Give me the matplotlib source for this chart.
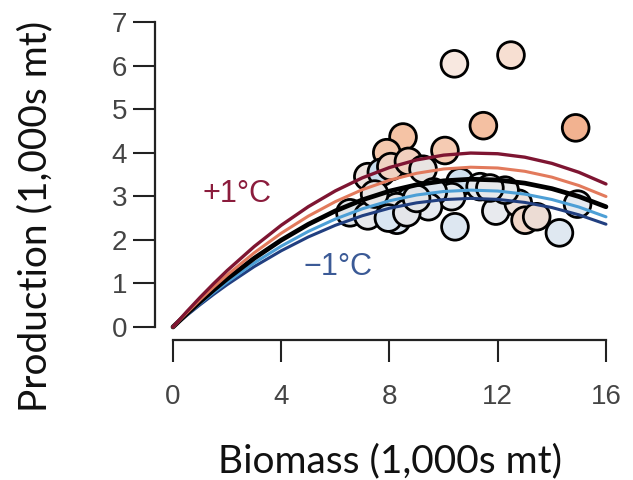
import matplotlib
matplotlib.use("Agg")
import matplotlib.pyplot as plt

# surplus production curves (1,000s mt)
biomass_grid = [0, 0.5, 1, 1.5, 2, 3, 4, 5, 6, 7, 8, 9, 10, 11, 12, 13, 14, 15, 16]
prod_plus1 = [0, 0.347, 0.678, 0.994, 1.294, 1.846, 2.335, 2.761, 3.124, 3.424,
              3.660, 3.834, 3.944, 3.992, 3.976, 3.897, 3.755, 3.550, 3.282]
prod_plus05 = [0, 0.320, 0.626, 0.917, 1.193, 1.702, 2.152, 2.544, 2.877, 3.152,
               3.369, 3.527, 3.626, 3.667, 3.649, 3.573, 3.439, 3.246, 2.995]
prod_base = [0, 0.297, 0.580, 0.849, 1.105, 1.577, 1.993, 2.356, 2.664, 2.918,
             3.118, 3.263, 3.354, 3.391, 3.373, 3.301, 3.175, 2.994, 2.759]
prod_minus05 = [0, 0.277, 0.541, 0.792, 1.030, 1.469, 1.856, 2.193, 2.478, 2.713,
                2.896, 3.029, 3.110, 3.141, 3.120, 3.049, 2.926, 2.753, 2.528]
prod_minus1 = [0, 0.261, 0.510, 0.747, 0.971, 1.385, 1.749, 2.066, 2.334, 2.554,
               2.726, 2.849, 2.924, 2.951, 2.929, 2.859, 2.741, 2.574, 2.359]

curves = [prod_minus1, prod_minus05, prod_base, prod_plus05, prod_plus1]
curve_colors = ["#213f80", "#4c9fd6", "black", "#e27a5c", "#7e1532"]
curve_widths = [2.2, 2.2, 3.4, 2.2, 2.4]

# observed years
obs_biomass = [8.50, 7.90, 10.05, 11.47, 14.88, 10.40, 12.49,
               7.20, 7.70, 8.05, 8.70, 9.24, 10.61, 11.35, 10.30, 9.62,
               8.76, 8.27, 9.44, 8.27, 6.54, 7.20, 7.96, 8.64,
               10.42, 11.93, 12.76, 13.01, 13.44, 14.28, 14.95, 12.27,
               11.71, 7.45, 9.00]
obs_prod = [4.36, 4.00, 4.05, 4.62, 4.57, 6.04, 6.24,
            3.45, 3.55, 3.68, 3.80, 3.62, 3.33, 3.22, 2.99, 3.10,
            2.90, 2.76, 2.76, 2.45, 2.62, 2.55, 2.50, 2.62,
            2.30, 2.66, 2.84, 2.45, 2.53, 2.16, 2.82, 3.14,
            3.19, 3.05, 2.95]
obs_color = ["#f5c3a5", "#f5c8ad", "#f5cbb3", "#f4c0a2", "#f2b290", "#f8e8e0", "#f7dfd2",
             "#eee4df", "#c9dcec", "#f0d2c2", "#f1d0be", "#e8e4e2", "#cfe0ee", "#e4e8ec",
             "#e6eaee", "#dfe6ee", "#cfe0ef", "#e6e4e4", "#e6eaf0", "#dce7f2", "#e2e6ea",
             "#e6e8ec", "#d9e6f2", "#e4e6ea", "#dde7f1", "#e8eaee", "#eee2dc", "#f0d6c8",
             "#ecdcd4", "#dfe8f1", "#e4eaf0", "#e8eaec", "#e6e8ea", "#e8e6e6", "#e2e4e8"]

x_ticks = [0, 4, 8, 12, 16]
y_ticks = [0, 1, 2, 3, 4, 5, 6, 7]

fig = plt.figure(figsize=(6.33, 4.8), dpi=100)
ax = fig.add_axes([0.2733, 0.3188, 0.684, 0.6354])

ax.scatter(obs_biomass, obs_prod, s=370, c=obs_color, edgecolors="black",
           linewidths=2.0, zorder=2, clip_on=False)

for vals, col, lw in zip(curves, curve_colors, curve_widths):
    ax.plot(biomass_grid, vals, color=col, lw=lw, zorder=3,
            solid_capstyle="round", clip_on=False)

ax.text(2.37, 3.05, "+1°C", color="#8b1c3c", fontsize=22, ha="center", va="center",
        family="Liberation Sans")
ax.text(6.10, 1.38, "\u22121°C", color="#3b5a96", fontsize=22, ha="center", va="center",
        family="Liberation Sans")

ax.set_xlim(0, 16)
ax.set_ylim(0, 7)
ax.set_xticks(x_ticks)
ax.set_yticks(y_ticks)
for side in ["top", "right"]:
    ax.spines[side].set_visible(False)
ax.spines["left"].set_position(("outward", 13))
ax.spines["bottom"].set_position(("outward", 9.4))
ax.spines["left"].set_bounds(0, 7)
ax.spines["bottom"].set_bounds(0, 16)
for side in ["left", "bottom"]:
    ax.spines[side].set_linewidth(1.6)
    ax.spines[side].set_color("#222222")
ax.tick_params(axis="both", length=16, width=1.5, color="#222222",
               labelsize=20, labelcolor="#444444")
ax.tick_params(axis="y", pad=4)
ax.tick_params(axis="x", pad=16)
for lab in ax.get_xticklabels() + ax.get_yticklabels():
    lab.set_family("Liberation Sans")

fig.text(0.616, 0.038, "Biomass (1,000s mt)", fontsize=28, family="Lato",
         ha="center", va="center", color="#111111")
fig.text(0.055, 0.55, "Production (1,000s mt)", fontsize=28, family="Lato",
         ha="center", va="center", rotation=90, color="#111111")

fig.savefig("out.png", dpi=100)
